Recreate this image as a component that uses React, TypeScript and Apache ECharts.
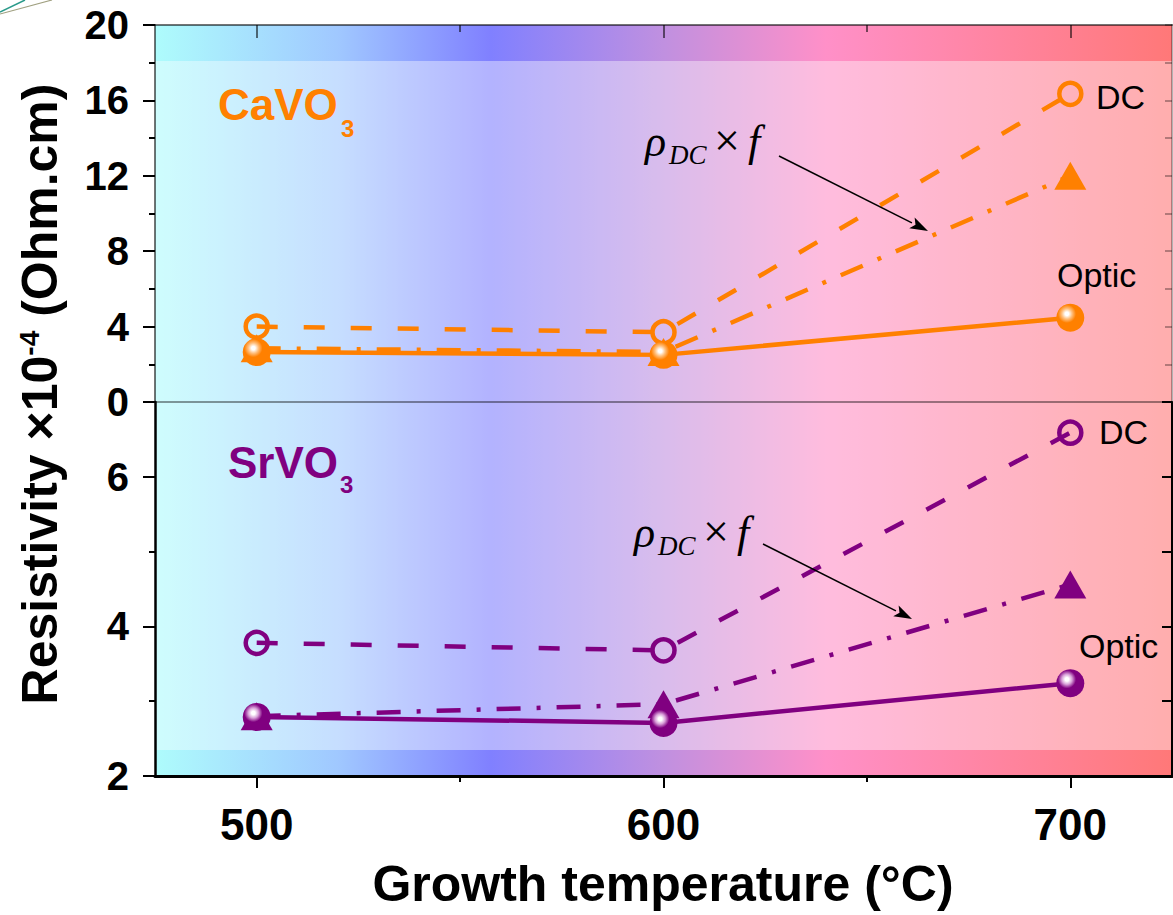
import React, { useEffect, useRef } from "react";
import * as echarts from "echarts";

// ---- data ----
const temps = [500, 600, 700];
const caDC = [4.0, 3.7, 16.35];
const caRhoF = [2.85, 2.65, 12.0];
const caOptic = [2.65, 2.5, 4.47];
const srDC = [3.78, 3.68, 6.59];
const srRhoF = [2.8, 2.96, 4.56];
const srOptic = [2.79, 2.71, 3.24];

const xMajor = [500, 600, 700];
const xMinor = [550, 650];
const srMajor = [2, 4, 6];
const srMinor = [3, 5];

const ORANGE = "#ff8000";
const PURPLE = "#800080";
const SANS = 'Arial, "Liberation Sans", Helvetica, sans-serif';
const SERIF = '"Times New Roman", "Liberation Serif", serif';

function sphere(color: string, light: string) {
  return {
    type: "radial",
    x: 0.38,
    y: 0.36,
    r: 0.65,
    colorStops: [
      { offset: 0, color: "#ffffff" },
      { offset: 0.1, color: "#ffffff" },
      { offset: 0.28, color: light },
      { offset: 0.5, color: color },
      { offset: 1, color: color },
    ],
  };
}

function mkSeries(vals: number[], color: string, kind: string, xi: number, yi: number, light: string) {
  const data = temps.map((t, i) => [t, vals[i]]);
  const base: any = {
    type: "line",
    xAxisIndex: xi,
    yAxisIndex: yi,
    data,
    silent: true,
  };
  if (kind === "dc") {
    return {
      ...base,
      symbol: "circle",
      symbolSize: 22,
      lineStyle: { color, width: 4.5, type: [21, 26] },
      itemStyle: { color: "rgba(0,0,0,0)", borderColor: color, borderWidth: 4.5 },
    };
  }
  if (kind === "rf") {
    return {
      ...base,
      symbol: "triangle",
      symbolSize: [32, 28],
      lineStyle: { color, width: 4.5, type: [24, 16, 4, 16] },
      itemStyle: { color },
    };
  }
  return {
    ...base,
    symbol: "circle",
    symbolSize: 28,
    lineStyle: { color, width: 4.5, type: "solid" },
    itemStyle: { color: sphere(color, light) },
  };
}

function txt(text: string, x: number, y: number, font: string, color = "#000", align = "left") {
  return {
    type: "text",
    x,
    y,
    z: 100,
    silent: true,
    style: { text, font, fill: color, align, verticalAlign: "middle" },
  };
}

function arrow(x1: number, y1: number, x2: number, y2: number) {
  const dx = x2 - x1, dy = y2 - y1;
  const L = Math.sqrt(dx * dx + dy * dy);
  const ux = dx / L, uy = dy / L;
  const hl = 18, hw = 6;
  const bx = x2 - ux * hl, by = y2 - uy * hl;
  return [
    { type: "line", z: 100, silent: true, shape: { x1, y1, x2: bx, y2: by }, style: { stroke: "#000", lineWidth: 1.5 } },
    {
      type: "polygon",
      z: 100,
      silent: true,
      shape: { points: [[x2, y2], [bx - uy * hw, by + ux * hw], [bx + ux * 4, by + uy * 4], [bx + uy * hw, by - ux * hw]] },
      style: { fill: "#000" },
    },
  ];
}

export default function App() {
  const ref = useRef<HTMLDivElement>(null);
  useEffect(() => {
    if (!ref.current) return;
    const chart = echarts.init(ref.current, undefined, { renderer: "svg" });
    const PL = 155, PT = 25, PW = 1017, PH1 = 377, PB = 776;
    const tickLbl = { color: "#000", fontWeight: "bold", fontFamily: SANS };
    const hidden = { show: false };
    const grad = {
      type: "linear",
      x: 0, y: 0, x2: 1, y2: 0,
      colorStops: [
        { offset: 0, color: "#aefcfc" },
        { offset: 0.18, color: "#a0c8ff" },
        { offset: 0.33, color: "#8080ff" },
        { offset: 0.5, color: "#c090e0" },
        { offset: 0.66, color: "#ff90c8" },
        { offset: 1, color: "#ff7878" },
      ],
    };
    const option: any = {
      animation: false,
      grid: [
        { left: PL, top: PT, width: PW, height: PH1, outerBoundsMode: "none" },
        { left: PL, top: PT + PH1, width: PW, height: PB - PT - PH1, outerBoundsMode: "none" },
      ],
      xAxis: [
        {
          gridIndex: 0, type: "value", position: "top", min: 475, max: 725,
          axisLine: { onZero: false, lineStyle: { color: "rgba(0,0,0,0.55)", width: 2 } },
          axisTick: { inside: true, customValues: xMajor, length: 13, lineStyle: { color: "rgba(0,0,0,0.55)", width: 2 } },
          axisLabel: hidden, splitLine: hidden,
        },
        {
          gridIndex: 0, type: "value", position: "top", min: 475, max: 725,
          axisLine: { show: false, onZero: false },
          axisTick: { inside: true, customValues: xMinor, length: 7, lineStyle: { color: "rgba(0,0,0,0.55)", width: 2 } },
          axisLabel: hidden, splitLine: hidden,
        },
        {
          gridIndex: 0, type: "value", position: "bottom", min: 475, max: 725,
          axisLine: { onZero: false, lineStyle: { color: "rgba(0,0,0,0.4)", width: 2 } },
          axisTick: hidden, axisLabel: hidden, splitLine: hidden,
        },
        {
          gridIndex: 1, type: "value", position: "bottom", min: 475, max: 725,
          axisLine: { onZero: false, lineStyle: { color: "#000", width: 3 } },
          axisTick: { customValues: xMajor, length: 12, lineStyle: { color: "#000", width: 2 } },
          axisLabel: { ...tickLbl, customValues: xMajor, fontSize: 44, margin: 26 },
          splitLine: hidden,
        },
        {
          gridIndex: 1, type: "value", position: "bottom", min: 475, max: 725,
          axisLine: { show: false, onZero: false },
          axisTick: { customValues: xMinor, length: 6, lineStyle: { color: "#000", width: 2 } },
          axisLabel: hidden, splitLine: hidden,
        },
      ],
      yAxis: [
        {
          gridIndex: 0, type: "value", position: "left", min: 0, max: 20, interval: 4,
          axisLine: { show: true, onZero: false, lineStyle: { color: "rgba(0,0,0,0.55)", width: 2 } },
          axisTick: { show: true, length: 12, lineStyle: { color: "#000", width: 2 } },
          minorTick: { show: true, splitNumber: 2, length: 6, lineStyle: { color: "#000", width: 2 } },
          axisLabel: { ...tickLbl, fontSize: 40, margin: 26 },
          splitLine: hidden, minorSplitLine: hidden,
        },
        {
          gridIndex: 0, type: "value", position: "right", min: 0, max: 20, interval: 2,
          axisLine: { show: true, onZero: false, lineStyle: { color: "rgba(0,0,0,0.3)", width: 2 } },
          axisTick: { show: true, inside: true, length: 7, lineStyle: { color: "rgba(0,0,0,0.3)", width: 2 } },
          axisLabel: hidden, splitLine: hidden,
        },
        {
          gridIndex: 1, type: "value", position: "left", min: 2, max: 7,
          axisLine: { show: true, onZero: false, lineStyle: { color: "#000", width: 2.5 } },
          axisTick: { show: true, customValues: srMajor, length: 12, lineStyle: { color: "#000", width: 2 } },
          axisLabel: { ...tickLbl, customValues: srMajor, fontSize: 40, margin: 26 },
          splitLine: hidden,
        },
        {
          gridIndex: 1, type: "value", position: "left", min: 2, max: 7,
          axisLine: { show: false, onZero: false },
          axisTick: { show: true, customValues: srMinor, length: 6, lineStyle: { color: "#000", width: 2 } },
          axisLabel: hidden, splitLine: hidden,
        },
        {
          gridIndex: 1, type: "value", position: "right", min: 2, max: 7, interval: 1,
          axisLine: { show: true, onZero: false, lineStyle: { color: "#000", width: 2 } },
          axisTick: { show: true, inside: true, length: 10, lineStyle: { color: "#000", width: 2 } },
          axisLabel: hidden, splitLine: hidden,
        },
      ],
      series: [
        mkSeries(caDC, ORANGE, "dc", 0, 0, "#ffc080"),
        mkSeries(caRhoF, ORANGE, "rf", 0, 0, "#ffc080"),
        mkSeries(caOptic, ORANGE, "op", 0, 0, "#ffc080"),
        mkSeries(srDC, PURPLE, "dc", 3, 2, "#d8a0d8"),
        mkSeries(srRhoF, PURPLE, "rf", 3, 2, "#d8a0d8"),
        mkSeries(srOptic, PURPLE, "op", 3, 2, "#d8a0d8"),
      ],
      graphic: [
        { type: "rect", z: -2, silent: true, shape: { x: PL, y: PT, width: PW, height: PB - PT }, style: { fill: grad } },
        { type: "rect", z: -1, silent: true, shape: { x: PL, y: 61, width: PW, height: 750 - 61 }, style: { fill: "rgba(255,255,255,0.4)" } },
        { type: "line", silent: true, shape: { x1: 0, y1: 12, x2: 25, y2: 0 }, style: { stroke: "#2a9a8a", lineWidth: 1.5 } },
        { type: "line", silent: true, shape: { x1: 0, y1: 14, x2: 52, y2: 0 }, style: { stroke: "#a0a080", lineWidth: 1.2 } },
        // titles
        {
          type: "text", x: 40, y: 394, rotation: Math.PI / 2, z: 100, silent: true,
          style: {
            text: "{a|Resistivity ×10}{s|-4}{a| (Ohm.cm)}",
            align: "center", verticalAlign: "middle",
            rich: {
              a: { font: `bold 50px ${SANS}`, fill: "#000", verticalAlign: "bottom" },
              s: { font: `bold 28px ${SANS}`, fill: "#000", verticalAlign: "top" },
            },
          },
        },
        txt("Growth temperature (°C)", 663, 884, `bold 50px ${SANS}`, "#000", "center"),
        // panel labels
        txt("CaVO", 218, 104, `bold 44px ${SANS}`, ORANGE),
        txt("3", 341, 128, `bold 24px ${SANS}`, ORANGE),
        txt("SrVO", 228, 462, `bold 44px ${SANS}`, PURPLE),
        txt("3", 340, 484, `bold 24px ${SANS}`, PURPLE),
        txt("DC", 1096, 97, `34px ${SANS}`),
        txt("Optic", 1057, 275, `34px ${SANS}`),
        txt("DC", 1099, 432, `34px ${SANS}`),
        txt("Optic", 1079, 646, `34px ${SANS}`),
        // rho annotations
        txt("ρ", 645, 141, `italic 44px ${SERIF}`),
        txt("DC", 669, 155, `italic 27px ${SERIF}`),
        txt("×", 714, 140, `46px ${SERIF}`),
        txt("f", 748, 141, `italic 44px ${SERIF}`),
        txt("ρ", 634, 532, `italic 44px ${SERIF}`),
        txt("DC", 658, 546, `italic 27px ${SERIF}`),
        txt("×", 703, 531, `46px ${SERIF}`),
        txt("f", 737, 532, `italic 44px ${SERIF}`),
        ...arrow(779, 156, 928, 231),
        ...arrow(763, 544, 912, 619),
      ],
    };
    chart.setOption(option);
    return () => chart.dispose();
  }, []);
  return <div ref={ref} style={{ position: "absolute", left: 0, top: 0, width: 1173, height: 915 }} />;
}
